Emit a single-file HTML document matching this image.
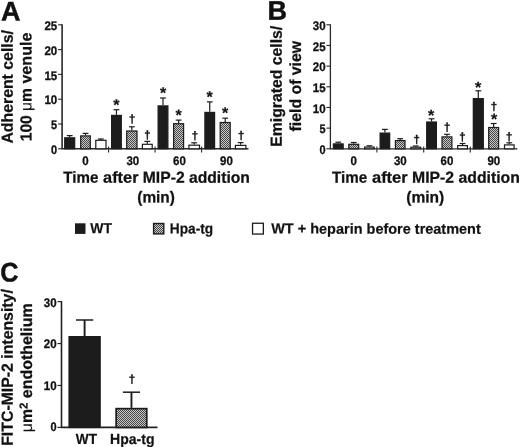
<!DOCTYPE html>
<html lang="en"><head><meta charset="utf-8"><title>Figure</title>
<style>
html,body{margin:0;padding:0;background:#fff;}
body{width:520px;height:447px;overflow:hidden;}
svg{display:block;will-change:transform;}
text{font-family:'Liberation Sans', Arial, Helvetica, sans-serif;font-weight:bold;fill:#111;}
.panel{font-size:27px;stroke:#111;stroke-width:0.45px;}
.tick{font-size:12.4px;stroke:#111;stroke-width:0.3px;}
.ax{font-size:16px;stroke:#111;stroke-width:0.25px;}
.leg{font-size:14.6px;stroke:#111;stroke-width:0.2px;}
.cl{font-size:14.6px;stroke:#111;stroke-width:0.2px;}
.star{font-size:16px;stroke:#111;stroke-width:0.2px;}
.dag{font-size:11.3px;stroke:#111;stroke-width:0.4px;}
.mu{font-weight:normal;stroke:none;}
</style></head><body>
<svg width="520" height="447" viewBox="0 0 520 447">
<defs>
<pattern id="hatch" width="2" height="2" patternUnits="userSpaceOnUse">
<rect width="2" height="2" fill="#c6c6c6"/><rect width="1" height="1" fill="#484848"/><rect x="1" y="1" width="1" height="1" fill="#484848"/>
</pattern>
</defs>
<rect width="520" height="447" fill="#fff"/>

<g id="A">
<text transform="translate(1 20.4) rotate(0.03)" class="panel" text-anchor="start">A</text>
<path d="M62.1 24.30V148.8H248.5" stroke="#2a2a2a" stroke-width="1.6" fill="none"/>
<path d="M58.1 148.80H62.1" stroke="#2a2a2a" stroke-width="1.1"/>
<text transform="translate(51.10 154.00) rotate(0.03)" class="tick" text-anchor="start" textLength="6.1" lengthAdjust="spacingAndGlyphs">0</text>
<path d="M58.1 124.00H62.1" stroke="#2a2a2a" stroke-width="1.1"/>
<text transform="translate(51.10 129.20) rotate(0.03)" class="tick" text-anchor="start" textLength="6.1" lengthAdjust="spacingAndGlyphs">5</text>
<path d="M58.1 99.20H62.1" stroke="#2a2a2a" stroke-width="1.1"/>
<text transform="translate(44.40 104.40) rotate(0.03)" class="tick" text-anchor="start" textLength="12.8" lengthAdjust="spacingAndGlyphs">10</text>
<path d="M58.1 74.40H62.1" stroke="#2a2a2a" stroke-width="1.1"/>
<text transform="translate(44.40 79.60) rotate(0.03)" class="tick" text-anchor="start" textLength="12.8" lengthAdjust="spacingAndGlyphs">15</text>
<path d="M58.1 49.60H62.1" stroke="#2a2a2a" stroke-width="1.1"/>
<text transform="translate(44.40 54.80) rotate(0.03)" class="tick" text-anchor="start" textLength="12.8" lengthAdjust="spacingAndGlyphs">20</text>
<path d="M58.1 24.80H62.1" stroke="#2a2a2a" stroke-width="1.1"/>
<text transform="translate(44.40 30.00) rotate(0.03)" class="tick" text-anchor="start" textLength="12.8" lengthAdjust="spacingAndGlyphs">25</text>
<path d="M108.6 146.60V152.40" stroke="#2a2a2a" stroke-width="1.1"/>
<path d="M155.1 146.60V152.40" stroke="#2a2a2a" stroke-width="1.1"/>
<path d="M201.6 146.60V152.40" stroke="#2a2a2a" stroke-width="1.1"/>
<path d="M69.70 137.20V135.60" stroke="#1c1c1c" stroke-width="1.2" fill="none"/>
<path d="M66.80 135.60H72.60" stroke="#1c1c1c" stroke-width="1.2" fill="none"/>
<rect x="64.70" y="137.80" width="10.00" height="11.00" fill="#1c1c1c" stroke="#1c1c1c" stroke-width="1.2"/>
<path d="M85.50 135.30V133.40" stroke="#1c1c1c" stroke-width="1.2" fill="none"/>
<path d="M82.60 133.40H88.40" stroke="#1c1c1c" stroke-width="1.2" fill="none"/>
<rect x="80.70" y="135.90" width="9.60" height="12.90" fill="url(#hatch)" stroke="#1c1c1c" stroke-width="1.2"/>
<path d="M100.90 139.70V139.00" stroke="#1c1c1c" stroke-width="1.2" fill="none"/>
<path d="M98.00 139.00H103.80" stroke="#1c1c1c" stroke-width="1.2" fill="none"/>
<rect x="95.80" y="140.30" width="10.20" height="8.50" fill="#fff" stroke="#1c1c1c" stroke-width="1.2"/>
<path d="M116.45 114.80V109.70" stroke="#1c1c1c" stroke-width="1.2" fill="none"/>
<path d="M113.55 109.70H119.35" stroke="#1c1c1c" stroke-width="1.2" fill="none"/>
<rect x="111.60" y="115.40" width="9.70" height="33.40" fill="#1c1c1c" stroke="#1c1c1c" stroke-width="1.2"/>
<path d="M131.85 130.40V126.80" stroke="#1c1c1c" stroke-width="1.2" fill="none"/>
<path d="M128.95 126.80H134.75" stroke="#1c1c1c" stroke-width="1.2" fill="none"/>
<rect x="126.70" y="131.00" width="10.30" height="17.80" fill="url(#hatch)" stroke="#1c1c1c" stroke-width="1.2"/>
<path d="M147.30 143.70V141.40" stroke="#1c1c1c" stroke-width="1.2" fill="none"/>
<path d="M144.40 141.40H150.20" stroke="#1c1c1c" stroke-width="1.2" fill="none"/>
<rect x="142.40" y="144.30" width="9.80" height="4.50" fill="#fff" stroke="#1c1c1c" stroke-width="1.2"/>
<path d="M163.00 105.30V98.00" stroke="#1c1c1c" stroke-width="1.2" fill="none"/>
<path d="M160.10 98.00H165.90" stroke="#1c1c1c" stroke-width="1.2" fill="none"/>
<rect x="158.10" y="105.90" width="9.80" height="42.90" fill="#1c1c1c" stroke="#1c1c1c" stroke-width="1.2"/>
<path d="M178.60 123.10V120.10" stroke="#1c1c1c" stroke-width="1.2" fill="none"/>
<path d="M175.70 120.10H181.50" stroke="#1c1c1c" stroke-width="1.2" fill="none"/>
<rect x="173.60" y="123.70" width="10.00" height="25.10" fill="url(#hatch)" stroke="#1c1c1c" stroke-width="1.2"/>
<path d="M194.20 144.60V142.80" stroke="#1c1c1c" stroke-width="1.2" fill="none"/>
<path d="M191.30 142.80H197.10" stroke="#1c1c1c" stroke-width="1.2" fill="none"/>
<rect x="188.90" y="145.20" width="10.60" height="3.60" fill="#fff" stroke="#1c1c1c" stroke-width="1.2"/>
<path d="M209.75 111.80V101.90" stroke="#1c1c1c" stroke-width="1.2" fill="none"/>
<path d="M206.85 101.90H212.65" stroke="#1c1c1c" stroke-width="1.2" fill="none"/>
<rect x="204.90" y="112.40" width="9.70" height="36.40" fill="#1c1c1c" stroke="#1c1c1c" stroke-width="1.2"/>
<path d="M225.20 121.90V118.20" stroke="#1c1c1c" stroke-width="1.2" fill="none"/>
<path d="M222.30 118.20H228.10" stroke="#1c1c1c" stroke-width="1.2" fill="none"/>
<rect x="220.20" y="122.50" width="10.00" height="26.30" fill="url(#hatch)" stroke="#1c1c1c" stroke-width="1.2"/>
<path d="M240.65 144.80V142.60" stroke="#1c1c1c" stroke-width="1.2" fill="none"/>
<path d="M237.75 142.60H243.55" stroke="#1c1c1c" stroke-width="1.2" fill="none"/>
<rect x="235.40" y="145.40" width="10.50" height="3.40" fill="#fff" stroke="#1c1c1c" stroke-width="1.2"/>
<text transform="translate(116.40 110.18) rotate(0.03)" class="star" text-anchor="middle">*</text>
<text transform="translate(132.10 122.71) rotate(0.03)" class="dag" text-anchor="middle">†</text>
<text transform="translate(147.50 138.71) rotate(0.03)" class="dag" text-anchor="middle">†</text>
<text transform="translate(163.10 98.18) rotate(0.03)" class="star" text-anchor="middle">*</text>
<text transform="translate(178.60 120.38) rotate(0.03)" class="star" text-anchor="middle">*</text>
<text transform="translate(194.80 139.61) rotate(0.03)" class="dag" text-anchor="middle">†</text>
<text transform="translate(209.60 102.18) rotate(0.03)" class="star" text-anchor="middle">*</text>
<text transform="translate(225.20 118.28) rotate(0.03)" class="star" text-anchor="middle">*</text>
<text transform="translate(241.20 139.21) rotate(0.03)" class="dag" text-anchor="middle">†</text>
<text transform="translate(82.20 165) rotate(0.03)" class="tick" text-anchor="start" textLength="6.4" lengthAdjust="spacingAndGlyphs">0</text>
<text transform="translate(126.40 165) rotate(0.03)" class="tick" text-anchor="start" textLength="12.8" lengthAdjust="spacingAndGlyphs">30</text>
<text transform="translate(173.00 165) rotate(0.03)" class="tick" text-anchor="start" textLength="12.8" lengthAdjust="spacingAndGlyphs">60</text>
<text transform="translate(220.10 165) rotate(0.03)" class="tick" text-anchor="start" textLength="12.8" lengthAdjust="spacingAndGlyphs">90</text>
<text transform="translate(63.3 182.8) rotate(0.03)" class="ax" text-anchor="start" textLength="35.0" lengthAdjust="spacingAndGlyphs">Time</text>
<text transform="translate(103.1 182.8) rotate(0.03)" class="ax" text-anchor="start" textLength="35.4" lengthAdjust="spacingAndGlyphs">after</text>
<text transform="translate(142.82 182.8) rotate(0.03)" class="ax" text-anchor="start" textLength="107.08" lengthAdjust="spacingAndGlyphs">MIP-2 addition</text>
<text transform="translate(137.3 202.6) rotate(0.03)" class="ax" text-anchor="start" textLength="37.6" lengthAdjust="spacingAndGlyphs">(min)</text>
<text transform="translate(12.7 143.6) rotate(-90.03)" class="ax" textLength="113.5" lengthAdjust="spacingAndGlyphs">Adherent cells/</text>
<text transform="translate(31.6 141.3) rotate(-90.03)" class="ax" textLength="53.3" lengthAdjust="spacingAndGlyphs">100 <tspan class="mu">μ</tspan>m</text>
<text transform="translate(31.6 83.6) rotate(-90.03)" class="ax" textLength="51" lengthAdjust="spacingAndGlyphs">venule</text>
</g>
<g id="B">
<text transform="translate(267.6 19.8) rotate(0.03)" class="panel" text-anchor="start">B</text>
<path d="M330.4 24.28V148.8H517.4" stroke="#2a2a2a" stroke-width="1.3" fill="none"/>
<path d="M326.4 148.80H330.4" stroke="#2a2a2a" stroke-width="1.1"/>
<text transform="translate(319.50 154.00) rotate(0.03)" class="tick" text-anchor="start" textLength="6.1" lengthAdjust="spacingAndGlyphs">0</text>
<path d="M326.4 128.13H330.4" stroke="#2a2a2a" stroke-width="1.1"/>
<text transform="translate(319.50 133.33) rotate(0.03)" class="tick" text-anchor="start" textLength="6.1" lengthAdjust="spacingAndGlyphs">5</text>
<path d="M326.4 107.46H330.4" stroke="#2a2a2a" stroke-width="1.1"/>
<text transform="translate(312.80 112.66) rotate(0.03)" class="tick" text-anchor="start" textLength="12.8" lengthAdjust="spacingAndGlyphs">10</text>
<path d="M326.4 86.79H330.4" stroke="#2a2a2a" stroke-width="1.1"/>
<text transform="translate(312.80 91.99) rotate(0.03)" class="tick" text-anchor="start" textLength="12.8" lengthAdjust="spacingAndGlyphs">15</text>
<path d="M326.4 66.12H330.4" stroke="#2a2a2a" stroke-width="1.1"/>
<text transform="translate(312.80 71.32) rotate(0.03)" class="tick" text-anchor="start" textLength="12.8" lengthAdjust="spacingAndGlyphs">20</text>
<path d="M326.4 45.45H330.4" stroke="#2a2a2a" stroke-width="1.1"/>
<text transform="translate(312.80 50.65) rotate(0.03)" class="tick" text-anchor="start" textLength="12.8" lengthAdjust="spacingAndGlyphs">25</text>
<path d="M326.4 24.78H330.4" stroke="#2a2a2a" stroke-width="1.1"/>
<text transform="translate(312.80 29.98) rotate(0.03)" class="tick" text-anchor="start" textLength="12.8" lengthAdjust="spacingAndGlyphs">30</text>
<path d="M376.9 146.60V152.40" stroke="#2a2a2a" stroke-width="1.1"/>
<path d="M423.7 146.60V152.40" stroke="#2a2a2a" stroke-width="1.1"/>
<path d="M470.3 146.60V152.40" stroke="#2a2a2a" stroke-width="1.1"/>
<path d="M338.30 143.30V142.20" stroke="#1c1c1c" stroke-width="1.2" fill="none"/>
<path d="M335.40 142.20H341.20" stroke="#1c1c1c" stroke-width="1.2" fill="none"/>
<rect x="333.40" y="143.90" width="9.80" height="4.90" fill="#1c1c1c" stroke="#1c1c1c" stroke-width="1.2"/>
<path d="M353.75 143.70V142.50" stroke="#1c1c1c" stroke-width="1.2" fill="none"/>
<path d="M350.85 142.50H356.65" stroke="#1c1c1c" stroke-width="1.2" fill="none"/>
<rect x="348.80" y="144.30" width="9.90" height="4.50" fill="url(#hatch)" stroke="#1c1c1c" stroke-width="1.2"/>
<path d="M369.40 146.50V145.80" stroke="#1c1c1c" stroke-width="1.2" fill="none"/>
<path d="M366.50 145.80H372.30" stroke="#1c1c1c" stroke-width="1.2" fill="none"/>
<rect x="364.60" y="147.10" width="9.60" height="1.70" fill="#fff" stroke="#1c1c1c" stroke-width="1.2"/>
<path d="M384.90 132.50V129.40" stroke="#1c1c1c" stroke-width="1.2" fill="none"/>
<path d="M382.00 129.40H387.80" stroke="#1c1c1c" stroke-width="1.2" fill="none"/>
<rect x="380.10" y="133.10" width="9.60" height="15.70" fill="#1c1c1c" stroke="#1c1c1c" stroke-width="1.2"/>
<path d="M400.20 140.00V138.70" stroke="#1c1c1c" stroke-width="1.2" fill="none"/>
<path d="M397.30 138.70H403.10" stroke="#1c1c1c" stroke-width="1.2" fill="none"/>
<rect x="395.40" y="140.60" width="9.60" height="8.20" fill="url(#hatch)" stroke="#1c1c1c" stroke-width="1.2"/>
<path d="M415.80 146.60V146.00" stroke="#1c1c1c" stroke-width="1.2" fill="none"/>
<path d="M412.90 146.00H418.70" stroke="#1c1c1c" stroke-width="1.2" fill="none"/>
<rect x="410.90" y="147.20" width="9.80" height="1.60" fill="#fff" stroke="#1c1c1c" stroke-width="1.2"/>
<path d="M431.55 121.40V118.80" stroke="#1c1c1c" stroke-width="1.2" fill="none"/>
<path d="M428.65 118.80H434.45" stroke="#1c1c1c" stroke-width="1.2" fill="none"/>
<rect x="426.70" y="122.00" width="9.70" height="26.80" fill="#1c1c1c" stroke="#1c1c1c" stroke-width="1.2"/>
<path d="M446.95 136.30V134.30" stroke="#1c1c1c" stroke-width="1.2" fill="none"/>
<path d="M444.05 134.30H449.85" stroke="#1c1c1c" stroke-width="1.2" fill="none"/>
<rect x="442.00" y="136.90" width="9.90" height="11.90" fill="url(#hatch)" stroke="#1c1c1c" stroke-width="1.2"/>
<path d="M462.55 145.00V143.50" stroke="#1c1c1c" stroke-width="1.2" fill="none"/>
<path d="M459.65 143.50H465.45" stroke="#1c1c1c" stroke-width="1.2" fill="none"/>
<rect x="457.70" y="145.60" width="9.70" height="3.20" fill="#fff" stroke="#1c1c1c" stroke-width="1.2"/>
<path d="M478.30 98.00V90.80" stroke="#1c1c1c" stroke-width="1.2" fill="none"/>
<path d="M475.40 90.80H481.20" stroke="#1c1c1c" stroke-width="1.2" fill="none"/>
<rect x="473.30" y="98.60" width="10.00" height="50.20" fill="#1c1c1c" stroke="#1c1c1c" stroke-width="1.2"/>
<path d="M493.65 126.90V123.50" stroke="#1c1c1c" stroke-width="1.2" fill="none"/>
<path d="M490.75 123.50H496.55" stroke="#1c1c1c" stroke-width="1.2" fill="none"/>
<rect x="488.70" y="127.50" width="9.90" height="21.30" fill="url(#hatch)" stroke="#1c1c1c" stroke-width="1.2"/>
<path d="M509.30 144.30V142.80" stroke="#1c1c1c" stroke-width="1.2" fill="none"/>
<path d="M506.40 142.80H512.20" stroke="#1c1c1c" stroke-width="1.2" fill="none"/>
<rect x="504.50" y="144.90" width="9.60" height="3.90" fill="#fff" stroke="#1c1c1c" stroke-width="1.2"/>
<text transform="translate(416.70 143.21) rotate(0.03)" class="dag" text-anchor="middle">†</text>
<text transform="translate(431.20 120.68) rotate(0.03)" class="star" text-anchor="middle">*</text>
<text transform="translate(447.20 130.91) rotate(0.03)" class="dag" text-anchor="middle">†</text>
<text transform="translate(462.50 140.71) rotate(0.03)" class="dag" text-anchor="middle">†</text>
<text transform="translate(478.20 92.78) rotate(0.03)" class="star" text-anchor="middle">*</text>
<text transform="translate(494.00 110.31) rotate(0.03)" class="dag" text-anchor="middle">†</text>
<text transform="translate(494.00 124.48) rotate(0.03)" class="star" text-anchor="middle">*</text>
<text transform="translate(509.20 140.51) rotate(0.03)" class="dag" text-anchor="middle">†</text>
<text transform="translate(350.50 165) rotate(0.03)" class="tick" text-anchor="start" textLength="6.4" lengthAdjust="spacingAndGlyphs">0</text>
<text transform="translate(393.90 165) rotate(0.03)" class="tick" text-anchor="start" textLength="12.8" lengthAdjust="spacingAndGlyphs">30</text>
<text transform="translate(440.60 165) rotate(0.03)" class="tick" text-anchor="start" textLength="12.8" lengthAdjust="spacingAndGlyphs">60</text>
<text transform="translate(487.40 165) rotate(0.03)" class="tick" text-anchor="start" textLength="12.8" lengthAdjust="spacingAndGlyphs">90</text>
<text transform="translate(332.1 182.8) rotate(0.03)" class="ax" text-anchor="start" textLength="35.15" lengthAdjust="spacingAndGlyphs">Time</text>
<text transform="translate(371.99 182.8) rotate(0.03)" class="ax" text-anchor="start" textLength="35.67" lengthAdjust="spacingAndGlyphs">after</text>
<text transform="translate(412.04 182.8) rotate(0.03)" class="ax" text-anchor="start" textLength="107.76" lengthAdjust="spacingAndGlyphs">MIP-2 addition</text>
<text transform="translate(406.3 202.5) rotate(0.03)" class="ax" text-anchor="start" textLength="38" lengthAdjust="spacingAndGlyphs">(min)</text>
<text transform="translate(281.7 146.8) rotate(-90.03)" class="ax" textLength="121" lengthAdjust="spacingAndGlyphs">Emigrated cells/</text>
<text transform="translate(301 131.4) rotate(-90.03)" class="ax" textLength="90.5" lengthAdjust="spacingAndGlyphs">field of view</text>
</g>
<g id="legend">
<rect x="75.0" y="223.3" width="10.5" height="10.6" fill="#1c1c1c"/>
<text transform="translate(90.3 233.3) rotate(0.03)" class="leg" text-anchor="start" textLength="21.7" lengthAdjust="spacingAndGlyphs">WT</text>
<rect x="153.6" y="223.5" width="10.2" height="10.4" fill="url(#hatch)" stroke="#1c1c1c" stroke-width="1.4"/>
<text transform="translate(169.8 233.5) rotate(0.03)" class="leg" text-anchor="start" textLength="43.3" lengthAdjust="spacingAndGlyphs">Hpa-tg</text>
<rect x="252.55" y="223.25" width="10.8" height="10.8" fill="#fff" stroke="#1c1c1c" stroke-width="1.3"/>
<text transform="translate(271.2 233.6) rotate(0.03)" class="leg" text-anchor="start" textLength="209.6" lengthAdjust="spacingAndGlyphs">WT + heparin before treatment</text>
</g>
<g id="C">
<text transform="translate(0.2 281.5) rotate(0.03)" class="panel" text-anchor="start" textLength="18.2" lengthAdjust="spacingAndGlyphs">C</text>
<path d="M61.5 301.11V427.4H157.5" stroke="#222" stroke-width="1.6" fill="none"/>
<path d="M57.5 427.40H61.5" stroke="#2a2a2a" stroke-width="1.2"/>
<text transform="translate(50.50 431.2) rotate(0.03)" class="tick" text-anchor="start" textLength="6.1" lengthAdjust="spacingAndGlyphs">0</text>
<path d="M57.5 385.47H61.5" stroke="#2a2a2a" stroke-width="1.2"/>
<text transform="translate(43.80 389.7) rotate(0.03)" class="tick" text-anchor="start" textLength="12.8" lengthAdjust="spacingAndGlyphs">10</text>
<path d="M57.5 343.54H61.5" stroke="#2a2a2a" stroke-width="1.2"/>
<text transform="translate(43.80 348.2) rotate(0.03)" class="tick" text-anchor="start" textLength="12.8" lengthAdjust="spacingAndGlyphs">20</text>
<path d="M57.5 301.61H61.5" stroke="#2a2a2a" stroke-width="1.2"/>
<text transform="translate(43.80 306.7) rotate(0.03)" class="tick" text-anchor="start" textLength="12.8" lengthAdjust="spacingAndGlyphs">30</text>
<path d="M84.60 336.00V320.00" stroke="#1c1c1c" stroke-width="1.9" fill="none"/>
<path d="M76.00 320.00H93.20" stroke="#1c1c1c" stroke-width="1.5" fill="none"/>
<rect x="69.10" y="336.70" width="31.00" height="90.70" fill="#1c1c1c" stroke="#1c1c1c" stroke-width="1.4"/>
<path d="M131.45 407.80V392.20" stroke="#1c1c1c" stroke-width="1.9" fill="none"/>
<path d="M122.85 392.20H140.05" stroke="#1c1c1c" stroke-width="1.5" fill="none"/>
<rect x="116.15" y="408.65" width="30.60" height="18.75" fill="url(#hatch)" stroke="#1c1c1c" stroke-width="1.7"/>
<text transform="translate(132.00 382.91) rotate(0.03)" class="dag" text-anchor="middle">†</text>
<text transform="translate(75.8 444) rotate(0.03)" class="cl" text-anchor="start" textLength="21.2" lengthAdjust="spacingAndGlyphs">WT</text>
<text transform="translate(110.0 444) rotate(0.03)" class="cl" text-anchor="start" textLength="44.5" lengthAdjust="spacingAndGlyphs">Hpa-tg</text>
<text transform="translate(12.7 445.8) rotate(-90.03)" class="ax" textLength="156.6" lengthAdjust="spacingAndGlyphs">FITC-MIP-2 intensity/</text>
<text transform="translate(32 432.2) rotate(-90.03)" class="ax" textLength="23.2" lengthAdjust="spacingAndGlyphs"><tspan class="mu">μ</tspan>m</text>
<text transform="translate(27.4 408.9) rotate(-90.03)" class="ax" style="font-size:11.5px">2</text>
<text transform="translate(32 398.2) rotate(-90.03)" class="ax" textLength="94.8" lengthAdjust="spacingAndGlyphs">endothelium</text>
</g>
</svg></body></html>
